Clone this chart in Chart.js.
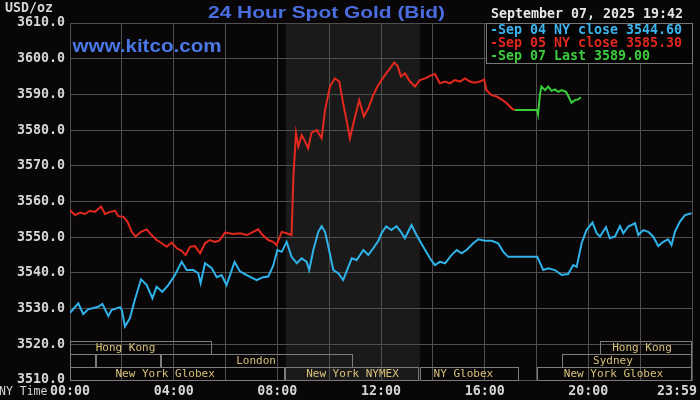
<!DOCTYPE html>
<html>
<head>
<meta charset="utf-8">
<title>24 Hour Spot Gold (Bid)</title>
<script src="https://cdn.jsdelivr.net/npm/chart.js@4.4.1/dist/chart.umd.min.js"></script>
<style>
    html, body { margin: 0; padding: 0; background: #060406; }
    #wrap { width: 700px; height: 400px; }
</style>
</head>
<body>
<div id="wrap"><canvas id="gold" width="700" height="400"></canvas></div>
<script>
/* ------------------------------- Data -------------------------------*/

// NY time in hours, price in USD/oz
const blueHours = [0, 0.32, 0.51, 0.7, 1.09, 1.25, 1.48, 1.6, 1.93, 2.0, 2.12, 2.31, 2.5, 2.74, 2.96, 3.18, 3.34, 3.56, 3.79,
    4.05, 4.31, 4.5, 4.76, 4.95, 5.04, 5.21, 5.47, 5.66, 5.85, 6.04, 6.35, 6.56, 6.82, 7.2, 7.46, 7.65, 7.84, 8.0, 8.17,
    8.36, 8.55, 8.75, 8.94, 9.13, 9.23, 9.39, 9.58, 9.71, 9.84, 9.97, 10.16, 10.35, 10.54, 10.74, 10.87, 11.06, 11.32,
    11.51, 11.7, 11.9, 12.02, 12.2, 12.4, 12.6, 12.77, 12.92, 13.18, 13.37, 13.63, 13.89, 14.08, 14.27, 14.47, 14.72,
    14.92, 15.11, 15.3, 15.56, 15.75, 16.01, 16.27, 16.52, 16.72, 16.91, 17.5, 18.03, 18.26, 18.45, 18.71, 18.97, 19.22,
    19.42, 19.55, 19.74, 19.93, 20.16, 20.32, 20.45, 20.68, 20.83, 21.03, 21.22, 21.35, 21.54, 21.8, 21.93, 22.12, 22.31,
    22.5, 22.7, 22.89, 23.08, 23.21, 23.34, 23.53, 23.73, 23.98];
const blueValues = [3528.8, 3531.5, 3528.5, 3529.8, 3530.5, 3531.3, 3527.9, 3529.6, 3530.4, 3529.6, 3525.0, 3527.3, 3532.4,
    3538.2, 3536.6, 3532.9, 3536.1, 3534.7, 3536.6, 3539.4, 3543.1, 3540.8, 3540.8, 3539.9, 3537.1, 3542.7, 3541.3, 3538.8,
    3539.4, 3536.6, 3543.1, 3540.4, 3539.4, 3538.0, 3538.8, 3539.0, 3542.0, 3546.4, 3545.9, 3548.7, 3544.5, 3542.7, 3544.1,
    3543.1, 3540.8, 3546.4, 3551.5, 3553.1, 3551.5, 3547.3, 3540.8, 3539.9, 3538.0, 3541.7, 3544.1, 3543.6, 3546.4, 3545.0,
    3546.9, 3549.0, 3551.1, 3553.0, 3552.0, 3553.1, 3551.5, 3549.7, 3553.4, 3550.6, 3547.3, 3544.1, 3542.2, 3543.1, 3542.7,
    3545.0, 3546.4, 3545.5, 3546.4, 3548.3, 3549.4, 3549.0, 3549.0, 3548.3, 3545.9, 3544.5, 3544.5, 3544.5, 3540.8, 3541.3,
    3540.8, 3539.4, 3539.7, 3542.2, 3541.7, 3548.3, 3552.0, 3554.1, 3551.1, 3550.2, 3552.8, 3549.7, 3550.2, 3553.1, 3551.1,
    3553.0, 3553.9, 3550.6, 3552.0, 3551.5, 3550.2, 3547.5, 3548.7, 3549.4, 3547.8, 3551.5, 3554.3, 3556.2, 3556.7];

const redHours = [0, 0.19, 0.39, 0.58, 0.77, 0.96, 1.2, 1.35, 1.54, 1.74, 1.86, 2.06, 2.22, 2.38, 2.53, 2.74, 2.96, 3.15,
    3.34, 3.54, 3.73, 3.92, 4.12, 4.31, 4.46, 4.63, 4.82, 5.02, 5.21, 5.4, 5.59, 5.75, 5.98, 6.3, 6.56, 6.82, 7.07, 7.26,
    7.43, 7.65, 7.84, 7.97, 8.17, 8.36, 8.55, 8.62, 8.72, 8.81, 8.94, 9.07, 9.19, 9.32, 9.52, 9.71, 9.84, 10.03, 10.22,
    10.39, 10.54, 10.67, 10.8, 11.0, 11.16, 11.34, 11.51, 11.7, 11.85, 12.0, 12.15, 12.35, 12.51, 12.64, 12.77, 12.92,
    13.12, 13.31, 13.5, 13.7, 13.89, 14.08, 14.27, 14.47, 14.66, 14.85, 15.05, 15.24, 15.43, 15.62, 15.82, 15.98, 16.07,
    16.27, 16.46, 16.65, 16.85, 17.04, 17.17];
const redValues = [3557.6, 3556.2, 3556.9, 3556.5, 3557.4, 3557.1, 3558.6, 3556.5, 3557.1, 3557.4, 3555.9, 3555.7, 3554.3,
    3551.5, 3550.2, 3551.5, 3552.2, 3550.6, 3549.2, 3548.3, 3547.3, 3548.5, 3546.9, 3546.2, 3545.0, 3547.3, 3547.5, 3545.5,
    3548.3, 3549.2, 3548.7, 3549.0, 3551.3, 3550.9, 3551.1, 3550.6, 3551.5, 3552.2, 3550.6, 3549.2, 3548.7, 3547.8, 3551.5,
    3551.1, 3550.6, 3567.0, 3579.1, 3575.4, 3578.6, 3576.8, 3574.9, 3579.3, 3580.0, 3577.7, 3585.6, 3592.2, 3594.5, 3593.6,
    3587.5, 3582.8, 3577.7, 3583.8, 3588.4, 3583.8, 3586.1, 3589.8, 3592.0, 3593.8, 3595.4, 3597.3, 3598.9, 3598.0, 3595.0,
    3595.9, 3593.6, 3592.2, 3594.0, 3594.5, 3595.2, 3595.7, 3593.1, 3593.6, 3593.1, 3594.0, 3593.6, 3594.5, 3593.6, 3593.3,
    3593.6, 3594.2, 3591.2, 3589.8, 3589.4, 3588.6, 3587.5, 3586.1, 3585.6];

const greenHours = [17.17, 18.03, 18.06, 18.13, 18.19, 18.33, 18.45, 18.58, 18.71, 18.84, 18.97, 19.14, 19.22, 19.35, 19.48,
    19.61, 19.71];
const greenValues = [3585.6, 3585.6, 3584.5, 3589.8, 3592.2, 3591.2, 3592.2, 3591.0, 3591.4, 3590.7, 3591.2, 3590.7, 3589.6,
    3587.7, 3588.4, 3588.6, 3589.2];

const xTickHours = [0, 4, 8, 12, 16, 20, 24];
const xTickLabels = ["00:00", "04:00", "08:00", "12:00", "16:00", "20:00", "23:59"];

const legendLabels = ["-Sep 04 NY close 3544.60", "-Sep 05 NY close 3585.30", "-Sep 07 Last 3589.00"];
const TITLE = "24 Hour Spot Gold (Bid)";
const STAMP = "September 07, 2025 19:42";

// market sessions: [start hour, end hour, row, label, label centre hour]
const sessions = [
    [0, 5.48, 0, "Hong Kong", 2.14],
    [20.45, 24, 0, "Hong Kong", 22.07],
    [0, 1.0, 1, "", 0],
    [1.0, 3.51, 1, "", 0],
    [3.51, 10.92, 1, "London", 7.18],
    [18.98, 24, 1, "Sydney", 20.95],
    [0, 8.3, 2, "New York Globex", 3.67],
    [8.3, 13.45, 2, "New York NYMEX", 10.9],
    [13.5, 17.32, 2, "NY Globex", 15.18],
    [18.0, 24, 2, "New York Globex", 20.97]
];
const NYMEX_OPEN = 8.33;
const NYMEX_CLOSE = 13.5;

/* ------------------------------- Style -------------------------------*/

const MONO = '"DejaVu Sans Mono", monospace';
const SANS = '"Liberation Sans", Arial, sans-serif';
const GRID = "#4f4f4f";
const BLUE = "#2fb3ea";
const RED = "#e3281d";
const GREEN = "#38d038";
const LEGEND_COLORS = ["#3cb4ee", "#e0281e", "#3ccc3c"];
const SESSION_TEXT = "#d8c07a";

function toPoints(hours, values) {                  // зібрати точки {x, y} з двох масивів
    return hours.map((h, i) => ({ x: h, y: values[i] }));
}

function stretchText(ctx, text, x, y, width) {      // текст, розтягнутий по ширині
    var w = ctx.measureText(text).width;
    ctx.save();
    ctx.translate(x, y);
    ctx.scale(width / w, 1);
    ctx.fillText(text, 0, 0);
    ctx.restore();
}

/* ------------------------------- Plugin -------------------------------*/

const decor = {
    id: "decor",
    beforeDraw(chart) {
        const ctx = chart.ctx;
        const area = chart.chartArea;
        const x = chart.scales.x;
        ctx.save();
        ctx.fillStyle = "#080607";
        ctx.fillRect(0, 0, chart.width, chart.height);
        ctx.fillStyle = "#1b1a1a";                   // NYMEX session shading
        var x0 = x.getPixelForValue(NYMEX_OPEN);
        var x1 = x.getPixelForValue(NYMEX_CLOSE);
        ctx.fillRect(x0, area.top, x1 - x0, area.bottom - area.top);
        ctx.restore();
    },
    afterDraw(chart) {
        const ctx = chart.ctx;
        const area = chart.chartArea;
        const x = chart.scales.x;
        ctx.save();

        // session boxes
        ctx.font = "11px " + MONO;
        ctx.textBaseline = "middle";
        ctx.textAlign = "center";
        var rowTop = [area.bottom - 39, area.bottom - 26, area.bottom - 13];
        sessions.forEach(s => {
            var sx = Math.round(x.getPixelForValue(s[0])) + 0.5;
            var ex = Math.round(x.getPixelForValue(s[1])) - 0.5;
            var top = rowTop[s[2]] + 0.5;
            ctx.strokeStyle = "#7c7c7c";
            ctx.lineWidth = 1;
            ctx.strokeRect(sx, top, ex - sx, 13);
            if (s[3]) {
                ctx.fillStyle = SESSION_TEXT;
                ctx.fillText(s[3], x.getPixelForValue(s[4]), top + 7);
            }
        });

        // legend box
        ctx.fillStyle = "#050405";
        ctx.fillRect(486, 23, 207, 40);
        ctx.strokeStyle = "#777";
        ctx.strokeRect(486.5, 23.5, 206, 40);
        ctx.font = "bold 13.3px " + MONO;
        ctx.textAlign = "left";
        legendLabels.forEach((t, i) => {
            ctx.fillStyle = LEGEND_COLORS[i];
            ctx.fillText(t, 490, 30.5 + i * 13);
        });

        // date stamp
        ctx.fillStyle = "#e6e6e6";
        ctx.fillText(STAMP, 491, 15);

        // units
        ctx.fillStyle = "#d6d6d6";
        ctx.fillText("USD/oz", 5, 9);

        // x labels
        ctx.textBaseline = "middle";
        xTickHours.forEach((h, i) => {
            var w = ctx.measureText(xTickLabels[i]).width;
            var px = Math.min(x.getPixelForValue(h), chart.width - 3 - w / 2);
            ctx.textAlign = "center";
            ctx.fillText(xTickLabels[i], px, 392);
        });
        ctx.font = "11.5px " + MONO;
        ctx.textAlign = "left";
        ctx.fillText("NY Time", -1, 392);

        // title + site
        ctx.textBaseline = "alphabetic";
        ctx.fillStyle = "#4a6ee0";
        ctx.font = "bold 17px " + SANS;
        stretchText(ctx, TITLE, 208, 17.5, 237);
        ctx.fillStyle = "#4a78e6";
        ctx.font = "bold 19px " + SANS;
        stretchText(ctx, "www.kitco.com", 72.5, 51.5, 149);

        ctx.restore();
    }
};

/* ------------------------------- Chart -------------------------------*/

const ctxGold = document.getElementById("gold").getContext("2d");

new Chart(ctxGold, {
    type: "line",
    data: {
        datasets: [{
            data: toPoints(greenHours, greenValues),
            borderColor: GREEN,
            borderWidth: 2,
            pointRadius: 0,
            tension: 0
        }, {
            data: toPoints(redHours, redValues),
            borderColor: RED,
            borderWidth: 2,
            pointRadius: 0,
            tension: 0
        }, {
            data: toPoints(blueHours, blueValues),
            borderColor: BLUE,
            borderWidth: 2,
            pointRadius: 0,
            tension: 0
        }]
    },
    options: {
        responsive: false,
        animation: false,
        devicePixelRatio: 1,
        layout: { padding: { top: 23, right: 8, bottom: 20, left: 0 } },
        plugins: {
            legend: { display: false },
            tooltip: { enabled: false }
        },
        scales: {
            x: {
                type: "linear",
                min: 0,
                max: 24,
                ticks: { display: false, stepSize: 2 },
                grid: { color: GRID, drawTicks: false },
                border: { color: GRID }
            },
            y: {
                min: 3510,
                max: 3610,
                ticks: {
                    stepSize: 10,
                    padding: 5,
                    color: "#d6d6d6",
                    font: { family: MONO, size: 13.3, weight: "bold" },
                    callback: v => v.toFixed(1)
                },
                grid: { color: GRID, drawTicks: false },
                border: { color: GRID },
                afterFit(scale) { scale.width = 70; }
            }
        }
    },
    plugins: [decor]
});
</script>
</body>
</html>
